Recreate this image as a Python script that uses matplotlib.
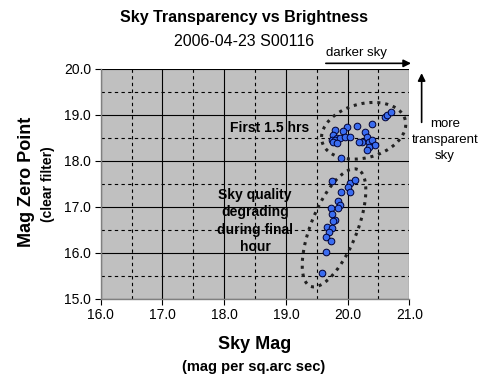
import numpy as np
import matplotlib
matplotlib.use("Agg")
import matplotlib.pyplot as plt

plt.rcParams['font.family'] = ['Liberation Sans', 'DejaVu Sans']

# Data
sky_mag = [20.60, 20.64, 20.70,
           19.99, 19.92, 19.80, 19.77, 19.82, 19.74, 19.80, 19.88, 19.96, 20.04,
           19.77, 19.82, 20.15, 20.28, 20.31, 20.23, 20.34, 20.39, 20.44, 20.34,
           20.31, 20.39, 20.19, 19.89,
           19.74, 20.04, 20.12, 20.01, 19.90, 20.04, 19.85, 19.88, 19.85, 19.73,
           19.74, 19.80, 19.77, 19.66, 19.74, 19.70, 19.65, 19.73, 19.65,
           19.59]
zero_point = [18.96, 18.99, 19.06,
              18.74, 18.65, 18.67, 18.55, 18.49, 18.45, 18.45, 18.49, 18.52, 18.52,
              18.41, 18.38, 18.76, 18.63, 18.52, 18.41, 18.41, 18.45, 18.35, 18.30,
              18.23, 18.79, 18.41, 18.05,
              17.56, 17.51, 17.57, 17.42, 17.31, 17.33, 17.12, 17.04, 16.97, 16.98,
              16.85, 16.72, 16.68, 16.56, 16.53, 16.44, 16.34, 16.25,
              16.01,
              15.56]

x_ticks = [16.0, 17.0, 18.0, 19.0, 20.0, 21.0]
y_ticks = [15.0, 16.0, 17.0, 18.0, 19.0, 20.0]

fig = plt.figure(figsize=(4.88, 3.91), dpi=100)
ax = fig.add_axes([0.2064, 0.2361, 0.6324, 0.5882])
ax.set_facecolor('#c0c0c0')
ax.set_xlim(16, 21)
ax.set_ylim(15, 20)
ax.set_xticks(x_ticks)
ax.set_yticks(y_ticks)
ax.set_xticklabels([f"{v:.1f}" for v in x_ticks], fontsize=10)
ax.set_yticklabels([f"{v:.1f}" for v in y_ticks], fontsize=10)
ax.set_xticks(np.arange(16.5, 21, 1.0), minor=True)
ax.set_yticks(np.arange(15.5, 20, 1.0), minor=True)
ax.tick_params(which='minor', length=0)
ax.tick_params(which='major', length=4, width=0.8, color='black', direction='out',
               pad=3)
ax.grid(which='major', color='black', linewidth=0.8, linestyle='-')
ax.grid(which='minor', color='black', linewidth=0.8, linestyle=(0, (3, 3)))
ax.set_axisbelow(True)
for s in ['top', 'right']:
    ax.spines[s].set_visible(False)
for s in ['left', 'bottom']:
    ax.spines[s].set_color('#808080')
    ax.spines[s].set_linewidth(1.0)

ax.plot(sky_mag, zero_point, linestyle='none', marker='o', markersize=4.8,
        markerfacecolor='#3a6cf0', markeredgecolor='#000033', markeredgewidth=0.7,
        zorder=3)

# dotted ellipses (defined in pixel scale, converted to data)
sx = 61.72
sy = 46.0

def ellipse(cx, cy, a, b, ang):
    t = np.linspace(0, 2 * np.pi, 200)
    th = np.deg2rad(ang)
    px = a * np.cos(t) * np.cos(th) - b * np.sin(t) * np.sin(th)
    py = a * np.cos(t) * np.sin(th) + b * np.sin(t) * np.cos(th)
    ax.plot(cx + px / sx, cy + py / sy, color='#222222', linestyle=(0, (1, 1.6)),
            linewidth=2.2, zorder=2)

ellipse(20.26, 18.65, 43, 27, 15)
ellipse(19.78, 16.54, 63, 23, 68)

ax.text(18.74, 18.71, "First 1.5 hrs", fontsize=10, fontweight='bold',
        ha='center', va='center')
ax.text(18.50, 16.69, "Sky quality\ndegrading\nduring final\nhour", fontsize=10,
        fontweight='bold', ha='center', va='center', linespacing=1.3)

fig.text(0.5, 0.954, "Sky Transparency vs Brightness", fontsize=11.5,
         fontweight='bold', ha='center', va='center')
fig.text(0.5, 0.893, "2006-04-23 S00116", fontsize=11.5, ha='center', va='center')

fig.text(0.7305, 0.864, "darker sky", fontsize=9.5, ha='center', va='center')
fig.add_artist(matplotlib.patches.FancyArrowPatch(
    (0.662, 0.838), (0.848, 0.838), transform=fig.transFigure,
    arrowstyle='-|>', mutation_scale=11, color='black', linewidth=1.2))
fig.add_artist(matplotlib.patches.FancyArrowPatch(
    (0.864, 0.680), (0.864, 0.820), transform=fig.transFigure,
    arrowstyle='-|>', mutation_scale=11, color='black', linewidth=1.2))
fig.text(0.912, 0.642, "more\ntransparent\nsky", fontsize=9.5, ha='center',
         va='center', linespacing=1.45)

fig.text(0.055, 0.535, "Mag Zero Point", fontsize=13, fontweight='bold',
         rotation=90, ha='center', va='center')
fig.text(0.098, 0.529, "(clear filter)", fontsize=10, fontweight='bold',
         rotation=90, ha='center', va='center')
fig.text(0.5225, 0.118, "Sky Mag", fontsize=13, fontweight='bold',
         ha='center', va='center')
fig.text(0.5205, 0.061, "(mag per sq.arc sec)", fontsize=10.5, fontweight='bold',
         ha='center', va='center')

fig.savefig("out.png", dpi=100)
